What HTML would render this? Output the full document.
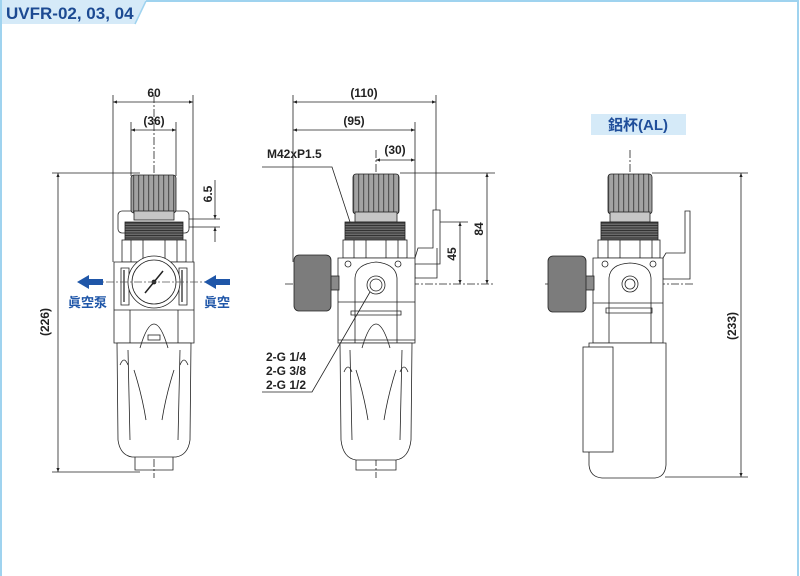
<!DOCTYPE html>
<html><head><meta charset="utf-8"><style>
html,body{margin:0;padding:0;background:#fff}
svg{display:block}
text{font-family:"Liberation Sans","Noto Sans CJK TC",sans-serif}
</style></head><body>
<svg width="800" height="576" viewBox="0 0 800 576" xmlns="http://www.w3.org/2000/svg">
<defs>
<marker id="a" viewBox="0 0 10 10" refX="10" refY="5" markerWidth="7" markerHeight="5" orient="auto-start-reverse"><path d="M0,1 L10,5 L0,9 z" fill="#222"/></marker>
<pattern id="rib" width="5" height="10" patternUnits="userSpaceOnUse"><rect width="5" height="10" fill="#a2a2a2"/><rect x="3" width="1.2" height="10" fill="#555"/></pattern>
<pattern id="thr" width="10" height="2.5" patternUnits="userSpaceOnUse"><rect width="10" height="2.5" fill="#6a6a6a"/><rect width="10" height="1" fill="#333"/></pattern>
</defs>
<path d="M0,0 H146 L135,24 H0 Z" fill="#d5eaf8"/>
<path d="M146,1 H799 M1,0 V576 M798,0 V576" stroke="#9fd3ef" stroke-width="2" fill="none"/>
<path d="M146,1 L135,24" stroke="#9fd3ef" stroke-width="1.5"/>
<text x="6" y="19" font-size="17" font-weight="bold" fill="#1c4a92">UVFR-02, 03, 04</text>

<g stroke="#222" stroke-width="0.8" fill="none">
<line x1="154" y1="95" x2="154" y2="478" stroke-dasharray="8,2,2,2"/>
<line x1="113" y1="95" x2="113" y2="262"/><line x1="193" y1="95" x2="193" y2="262"/>
<line x1="113" y1="102" x2="193" y2="102" marker-start="url(#a)" marker-end="url(#a)"/>
<line x1="131" y1="122" x2="131" y2="176"/><line x1="176" y1="122" x2="176" y2="176"/>
<line x1="131" y1="130" x2="176" y2="130" marker-start="url(#a)" marker-end="url(#a)"/>
<line x1="52" y1="173" x2="140" y2="173"/><line x1="52" y1="472" x2="140" y2="472"/>
<line x1="58" y1="173" x2="58" y2="472" marker-start="url(#a)" marker-end="url(#a)"/>
<line x1="185" y1="219" x2="220" y2="219"/><line x1="185" y1="227" x2="220" y2="227"/>
<line x1="215" y1="180" x2="215" y2="219" marker-end="url(#a)"/>
<line x1="215" y1="242" x2="215" y2="227" marker-end="url(#a)"/>
<rect x="118" y="211" width="71" height="22" rx="4" fill="#fff"/>
<rect x="131" y="175" width="45" height="38" rx="3" fill="url(#rib)"/>
<rect x="134" y="211" width="40" height="9" fill="#c6c6c6"/>
<rect x="125" y="222" width="58" height="18" fill="url(#thr)"/>
<rect x="122" y="240" width="64" height="22" fill="#fff"/>
<path d="M131,240 V262 M143,240 V262 M165,240 V262 M177,240 V262"/>
<path d="M114,262 H194 V343 H114 Z" fill="#fff"/>
<path d="M121,268 h8 v37 h-8 z M179,268 h8 v37 h-8 z" fill="#fff"/>
<path d="M124,270 v32 M182,270 v32" stroke="#777" stroke-width="2"/>
<circle cx="154" cy="282" r="26" fill="#fff"/>
<circle cx="154" cy="282" r="22" fill="#fff"/>
<line x1="145" y1="293" x2="163" y2="271" stroke-width="1.5"/>
<circle cx="154" cy="282" r="2" fill="#222"/>
<line x1="114" y1="310" x2="194" y2="310"/>
<line x1="130" y1="310" x2="130" y2="343"/><line x1="178" y1="310" x2="178" y2="343"/>
<rect x="148" y="335" width="12" height="5" fill="#fff"/>
<path d="M117,343 L118,440 Q120,455 132,457 H176 Q188,455 190,440 L191,343 Z" fill="#fff"/>
<path d="M128,350 L130,440 M180,350 L178,440 M140,348 Q154,300 168,348 M134,370 Q142,395 146,420 M174,370 Q166,395 162,420 M120,365 q4,-10 8,0 M180,365 q4,-10 8,0"/>
<path d="M135,457 V470 H173 V457"/>
<line x1="78" y1="282" x2="232" y2="282" stroke-dasharray="8,2,2,2" stroke="#555"/>
</g>
<g fill="#1f56a8">
<path d="M77,282 l12,-7 v4 h14 v6 h-14 v4 z"/>
<path d="M204,282 l12,-7 v4 h14 v6 h-14 v4 z"/>
</g>
<text x="68" y="307" font-size="13" font-weight="bold" fill="#1f56a8">眞空泵</text>
<text x="204" y="307" font-size="13" font-weight="bold" fill="#1f56a8">眞空</text>
<g font-size="12" font-weight="bold" fill="#222" text-anchor="middle">
<text x="154" y="97">60</text>
<text x="154" y="125">(36)</text>
<text transform="translate(49,322) rotate(-90)">(226)</text>
<text transform="translate(212,194) rotate(-90)">6.5</text>
</g>

<g stroke="#222" stroke-width="0.8" fill="none">
<line x1="376" y1="150" x2="376" y2="478" stroke-dasharray="8,2,2,2"/>
<line x1="293" y1="95" x2="293" y2="262"/><line x1="436" y1="95" x2="436" y2="215"/>
<line x1="293" y1="102" x2="436" y2="102" marker-start="url(#a)" marker-end="url(#a)"/>
<line x1="415" y1="122" x2="415" y2="258"/>
<line x1="293" y1="130" x2="415" y2="130" marker-start="url(#a)" marker-end="url(#a)"/>
<line x1="376" y1="160" x2="415" y2="160" marker-start="url(#a)" marker-end="url(#a)"/>
<line x1="400" y1="173" x2="495" y2="173"/><line x1="440" y1="222" x2="468" y2="222"/>
<line x1="460" y1="222" x2="460" y2="284" marker-start="url(#a)" marker-end="url(#a)"/>
<line x1="487" y1="173" x2="487" y2="284" marker-start="url(#a)" marker-end="url(#a)"/>
<line x1="285" y1="284" x2="495" y2="284" stroke-dasharray="8,2,2,2"/>
<rect x="353" y="174" width="46" height="40" rx="3" fill="url(#rib)"/>
<rect x="355" y="212" width="42" height="10" fill="#c6c6c6"/>
<rect x="345" y="222" width="60" height="18" fill="url(#thr)"/>
<rect x="343" y="240" width="64" height="18" fill="#fff"/>
<path d="M354,240 V258 M366,240 V258 M386,240 V258 M398,240 V258"/>
<path d="M415,258 L412,264 H440 V210 H433 V248 H418 Z" fill="#fff"/>
<path d="M405,274 V278 H437 V248 M415,264 V278"/>
<path d="M338,258 H415 V343 H338 Z" fill="#fff"/>
<path d="M355,278 Q356,264 376,262 Q396,264 397,278 V343 M355,278 V343 M338,302 H415 M338,340 H415 M351,311 H401 V315 H351 Z" fill="none"/>
<circle cx="376" cy="285" r="9" fill="#fff"/><circle cx="376" cy="285" r="6"/>
<circle cx="348" cy="264" r="3"/><circle cx="398" cy="264" r="3"/>
<rect x="330" y="276" width="9" height="14" fill="#8a8a8a"/>
<rect x="294" y="255" width="37" height="56" rx="5" fill="#7c7c7c"/>
<path d="M340,343 L341,440 Q343,458 356,460 H396 Q409,458 411,440 L412,343 Z" fill="#fff"/>
<path d="M350,350 L352,440 M402,350 L400,440 M362,348 Q376,300 390,348 M356,370 Q364,395 368,420 M396,370 Q388,395 384,420 M344,372 q4,-10 8,0 M400,372 q4,-10 8,0"/>
<path d="M356,460 V470 H396 V460"/>
<path d="M262,167 H332 L350,222"/>
<path d="M262,392 H312 L370,292"/>
<line x1="630" y1="150" x2="630" y2="478" stroke-dasharray="8,2,2,2"/>
<line x1="652" y1="173" x2="748" y2="173"/><line x1="665" y1="477" x2="748" y2="477"/>
<line x1="741" y1="173" x2="741" y2="477" marker-start="url(#a)" marker-end="url(#a)"/>
<line x1="545" y1="284" x2="693" y2="284" stroke-dasharray="8,2,2,2"/>
<rect x="608" y="174" width="44" height="40" rx="3" fill="url(#rib)"/>
<rect x="610" y="212" width="40" height="10" fill="#c6c6c6"/>
<rect x="601" y="222" width="57" height="18" fill="url(#thr)"/>
<rect x="598" y="240" width="62" height="18" fill="#fff"/>
<path d="M608,240 V258 M620,240 V258 M640,240 V258 M652,240 V258"/>
<path d="M663,258 L666,253 H685 V211 H690 V279 H663 Z" fill="#fff"/>
<path d="M593,258 H663 V343 H593 Z" fill="#fff"/>
<path d="M609,278 Q610,264 630,263 Q650,264 651,278 V343 M609,278 V343 M593,303 H663 M606,308 H652 V313 H606 Z" fill="none"/>
<circle cx="630" cy="284" r="8" fill="#fff"/><circle cx="630" cy="284" r="5"/>
<circle cx="605" cy="264" r="3"/><circle cx="653" cy="264" r="3"/>
<rect x="585" y="276" width="9" height="14" fill="#8a8a8a"/>
<rect x="548" y="256" width="38" height="56" rx="5" fill="#7c7c7c"/>
<path d="M589,343 V465 Q590,477 602,478 H655 Q665,477 666,465 V343 Z" fill="#fff"/>
<rect x="583" y="347" width="30" height="105" fill="#fff"/>
</g>
<g font-size="12" font-weight="bold" fill="#222">
<text x="267" y="158">M42xP1.5</text>
<text x="266" y="361">2-G 1/4</text>
<text x="266" y="375">2-G 3/8</text>
<text x="266" y="389">2-G 1/2</text>
</g>
<g font-size="12" font-weight="bold" fill="#222" text-anchor="middle">
<text x="364" y="97">(110)</text>
<text x="354" y="125">(95)</text>
<text x="395" y="154">(30)</text>
<text transform="translate(456,254) rotate(-90)">45</text>
<text transform="translate(483,229) rotate(-90)">84</text>
<text transform="translate(736,326) rotate(-90)">(233)</text>
</g>
<rect x="591" y="114" width="95" height="21" fill="#d5eaf8"/>
<text x="638" y="130" font-size="15" font-weight="bold" text-anchor="middle" fill="#1f4e9a">鋁杯(AL)</text>
</svg>
</body></html>
